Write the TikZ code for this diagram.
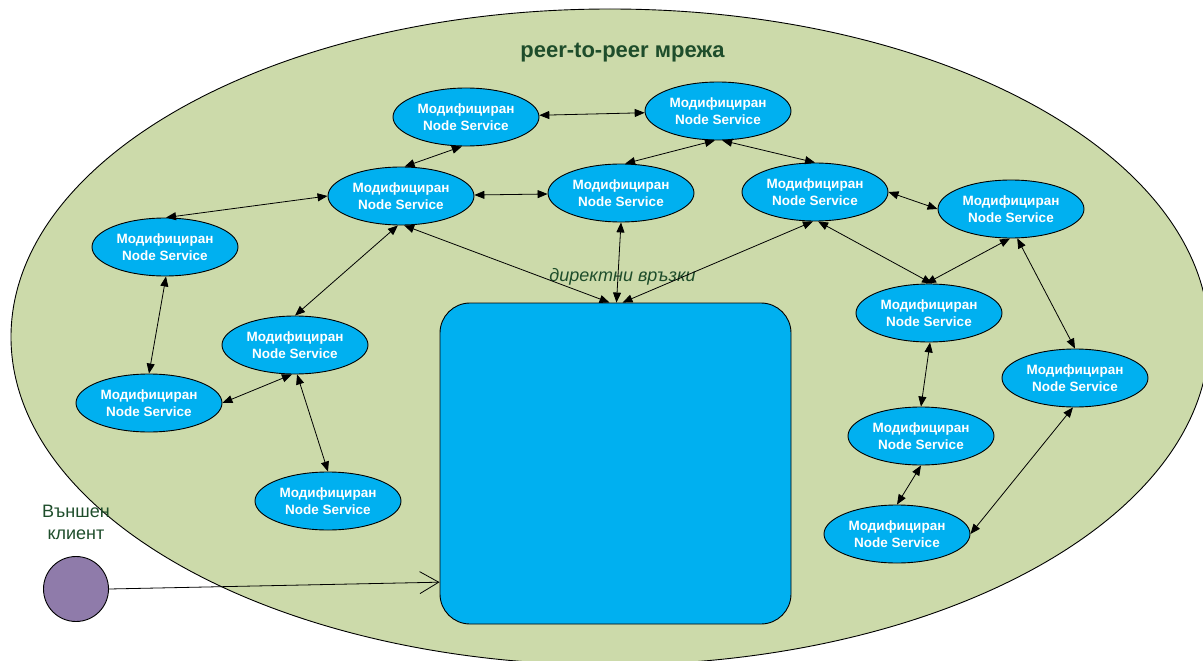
\documentclass[tikz,border=0pt]{standalone}
\usepackage{fontspec}
\setmainfont{Liberation Sans}
\usetikzlibrary{arrows.meta,shapes.geometric}

\definecolor{netfill}{HTML}{CCDAAA}
\definecolor{peerblue}{HTML}{00B0F0}
\definecolor{clientpurple}{HTML}{8F7BAA}
\definecolor{labelgreen}{HTML}{1E4D2B}

\tikzset{
  peer/.style={ellipse, draw=black, line width=0.9pt, fill=peerblue,
    minimum width=146pt, minimum height=58pt, inner sep=0pt,
    align=center, text=white, font=\fontsize{13.5}{17}\selectfont\bfseries},
  link/.style={line width=0.8pt,
    arrows={Triangle[length=10pt,width=8pt]-Triangle[length=10pt,width=8pt]}},
  request/.style={line width=0.8pt, arrows={-Straight Barb[length=19pt,width=22pt]}},
}

\newcommand{\peertext}{Модифициран\\Node Service}

\begin{document}
\begin{tikzpicture}[x=1pt,y=-1pt]
\useasboundingbox (0,0) rectangle (1203,661);

% the peer-to-peer network area
\begin{scope}
  \clip (0,0) rectangle (1203,661);
  \draw[line width=0.9pt, fill=netfill] (610,337) ellipse [x radius=599pt, y radius=328pt];
\end{scope}

\node[anchor=base, text=labelgreen, font=\fontsize{22}{26}\selectfont\bfseries]
  (title) at (622.5,58) {peer-to-peer мрежа};

% central service
\node[draw=black, line width=0.9pt, fill=peerblue, rounded corners=30pt,
  minimum width=351pt, minimum height=321pt, inner sep=0pt] (R) at (615.5,463.5) {};

\node[anchor=base, text=labelgreen, font=\fontsize{18}{22}\selectfont\itshape]
  (direct) at (622.5,281) {директни връзки};

% peer nodes
\node[peer] (A) at (466,117) {\peertext};
\node[peer] (B) at (718,111) {\peertext};
\node[peer] (C) at (401,196) {\peertext};
\node[peer] (D) at (621,193) {\peertext};
\node[peer] (E) at (815,192) {\peertext};
\node[peer] (F) at (1011,209) {\peertext};
\node[peer] (G) at (165,247) {\peertext};
\node[peer] (H) at (295,345) {\peertext};
\node[peer] (I) at (149,403) {\peertext};
\node[peer] (J) at (328,501) {\peertext};
\node[peer] (K) at (929,313) {\peertext};
\node[peer] (L) at (1075,378) {\peertext};
\node[peer] (M) at (921,436) {\peertext};
\node[peer] (N) at (897,534) {\peertext};

% external client
\node[circle, draw=black, line width=0.9pt, fill=clientpurple, minimum size=65pt,
  inner sep=0pt] (client) at (76,589) {};
\node[anchor=south, align=center, inner sep=0pt, text=labelgreen,
  font=\fontsize{18}{22}\selectfont] (clientlabel) at (76,540) {Външен\\клиент};

% peer links
\draw[link] (A) -- (B);
\draw[link] (A.262) -- (C.83);
\draw[link] (C.west) -- (G.88);
\draw[link] (C) -- (D);
\draw[link] (B.264) -- (D.82);
\draw[link] (B.278) -- (E.north);
\draw[link] (E.east) -- (F.west);
\draw[link] (E.276) -- (K.84);
\draw[link] (F.268) -- (K.96);
\draw[link] (F.282) -- (L.north);
\draw[link] (K.272) -- (M.north);
\draw[link] (M.south) -- (N.north);
\draw[link] (L.266) -- (N.east);
\draw[link] (G.272) -- (I.north);
\draw[link] (C.264) -- (H.north);
\draw[link] (H.264) -- (I.east);
\draw[link] (H.274) -- (J.north);

% direct links to the central service
\draw[link] (C.276) -- ([xshift=-6pt]R.north);
\draw[link] (D.south) -- ([xshift=1pt]R.north);
\draw[link] (E.266) -- ([xshift=7pt]R.north);

\draw[request] (client.east) -- (R.214.2);
\end{tikzpicture}
\end{document}
